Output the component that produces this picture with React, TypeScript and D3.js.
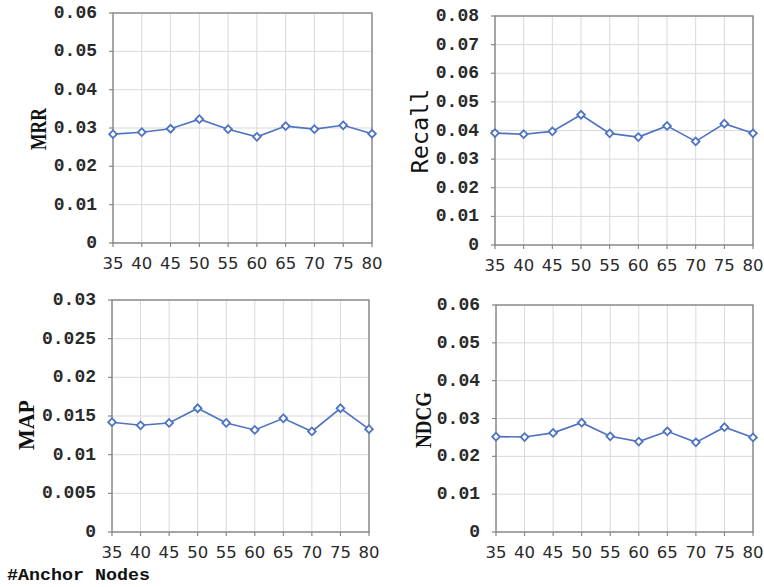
import React from 'react';
import * as d3 from 'd3';

// # anchor nodes on the x axis
const anchors = [35, 40, 45, 50, 55, 60, 65, 70, 75, 80];

const mrrValues = [0.0284, 0.0289, 0.0298, 0.0323, 0.0297, 0.0277, 0.0305, 0.0297, 0.0307, 0.0285];
const recallValues = [0.0391, 0.0387, 0.0397, 0.0455, 0.039, 0.0377, 0.0416, 0.0362, 0.0424, 0.039];
const mapValues = [0.0142, 0.0138, 0.0141, 0.016, 0.0141, 0.0132, 0.0147, 0.013, 0.016, 0.0133];
const ndcgValues = [0.0252, 0.0251, 0.0262, 0.0289, 0.0253, 0.0239, 0.0266, 0.0237, 0.0277, 0.025];

const mrrTicks = ['0', '0.01', '0.02', '0.03', '0.04', '0.05', '0.06'];
const recallTicks = ['0', '0.01', '0.02', '0.03', '0.04', '0.05', '0.06', '0.07', '0.08'];
const mapTicks = ['0', '0.005', '0.01', '0.015', '0.02', '0.025', '0.03'];
const ndcgTicks = ['0', '0.01', '0.02', '0.03', '0.04', '0.05', '0.06'];

const LINE_COLOR = '#4e73c3';
const GRID_COLOR = '#d9d9d9';
const FRAME_COLOR = '#808080';

const diamond = d3.symbol().type(d3.symbolSquare).size(30)();

const Panel = ({ box, values, ticks, title, titleX, titleY, titleLen, titleFont, titleWeight, titleSize }) => {
	const [left, top, right, bottom] = box;
	const x = d3.scaleLinear().domain([anchors[0], anchors[anchors.length - 1]]).range([left, right]);
	const yMax = +ticks[ticks.length - 1];
	const y = d3.scaleLinear().domain([0, yMax]).range([bottom, top]);
	const line = d3.line().x((d, i) => x(anchors[i])).y(d => y(d));

	return (
		<g>
			{/* grid */}
			{ticks.map(t => (
				<line key={'h' + t} x1={left - 4} x2={right} y1={y(+t)} y2={y(+t)} stroke={GRID_COLOR} strokeWidth={1} />
			))}
			{anchors.map(a => (
				<line key={'v' + a} x1={x(a)} x2={x(a)} y1={top} y2={bottom + 4} stroke={GRID_COLOR} strokeWidth={1} />
			))}
			{/* small outward ticks */}
			{ticks.map(t => (
				<line key={'ht' + t} x1={left - 4} x2={left} y1={y(+t)} y2={y(+t)} stroke={FRAME_COLOR} strokeWidth={1} />
			))}
			{anchors.map(a => (
				<line key={'vt' + a} x1={x(a)} x2={x(a)} y1={bottom} y2={bottom + 4} stroke={FRAME_COLOR} strokeWidth={1} />
			))}
			<rect x={left} y={top} width={right - left} height={bottom - top} fill='none' stroke={FRAME_COLOR} strokeWidth={1.3} />

			{/* y tick labels */}
			{ticks.map(t => (
				<text
					key={'yl' + t}
					x={left - 16}
					y={y(+t)}
					textAnchor='end'
					dominantBaseline='central'
					fontFamily='"Liberation Mono", "Courier New", monospace'
					fontWeight='bold'
					fontSize={18}
					fill='#2a2a2a'
				>
					{t}
				</text>
			))}
			{/* x tick labels */}
			{anchors.map(a => (
				<text
					key={'xl' + a}
					x={x(a)}
					y={bottom + 20.5}
					textAnchor='middle'
					dominantBaseline='central'
					fontFamily='"DejaVu Sans", sans-serif'
					fontSize={16.5}
					fill='#2a2a2a'
				>
					{a}
				</text>
			))}

			{/* axis title */}
			<text
				transform={`translate(${titleX} ${titleY}) rotate(-90)`}
				textAnchor='middle'
				dominantBaseline='central'
				fontFamily={titleFont}
				fontWeight={titleWeight}
				fontSize={titleSize}
				textLength={titleLen}
				lengthAdjust='spacingAndGlyphs'
				fill='#111'
			>
				{title}
			</text>

			{/* series */}
			<path d={line(values)} fill='none' stroke={LINE_COLOR} strokeWidth={1.6} />
			{values.map((v, i) => (
				<path
					key={'m' + i}
					d={diamond}
					transform={`translate(${x(anchors[i])} ${y(v)}) rotate(45)`}
					fill='white'
					stroke={LINE_COLOR}
					strokeWidth={1.8}
				/>
			))}
		</g>
	);
};

const serif = '"Liberation Serif", "Times New Roman", serif';

const App = () => {
	return (
		<svg width={764} height={587} style={{ position: 'absolute', left: 0, top: 0, background: 'white' }}>
			<Panel box={[113, 13, 372, 243]} values={mrrValues} ticks={mrrTicks}
				title='MRR' titleX={37.5} titleY={129} titleLen={42} titleFont={serif} titleWeight='bold' titleSize={24} />
			<Panel box={[495, 16, 753, 245]} values={recallValues} ticks={recallTicks}
				title='Recall' titleX={420} titleY={131} titleLen={85} titleFont='"DejaVu Sans Mono", monospace' titleWeight='normal' titleSize={23} />
			<Panel box={[112, 300, 369, 532]} values={mapValues} ticks={mapTicks}
				title='MAP' titleX={25.5} titleY={425} titleLen={50} titleFont={serif} titleWeight='bold' titleSize={24} />
			<Panel box={[496, 305, 753, 532]} values={ndcgValues} ticks={ndcgTicks}
				title='NDCG' titleX={422.5} titleY={420} titleLen={56} titleFont={serif} titleWeight='bold' titleSize={24} />

			<text x={7} y={575} dominantBaseline='central' fontFamily='"Liberation Mono", "Courier New", monospace'
				fontWeight='bold' fontSize={17} textLength={143} lengthAdjust='spacingAndGlyphs' fill='#111'>
				#Anchor Nodes
			</text>
		</svg>
	);
};

export default App;
